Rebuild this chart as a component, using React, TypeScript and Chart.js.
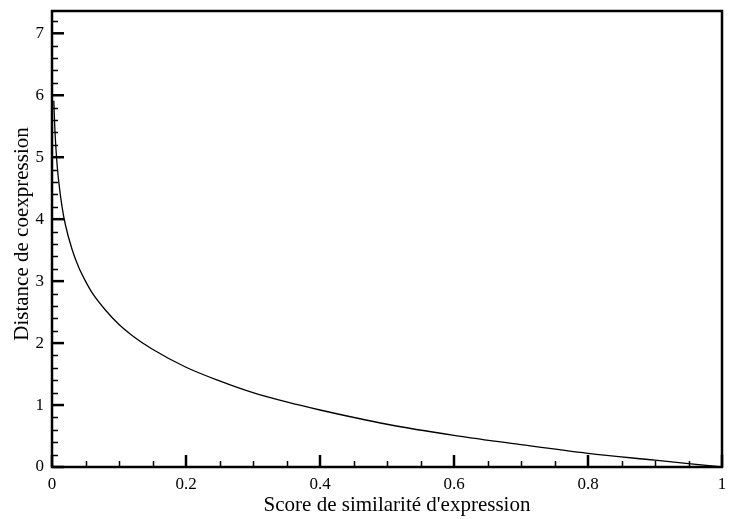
import React, { useEffect, useRef } from "react";
import { Chart, registerables } from "chart.js";

Chart.register(...registerables);

// Similarity score (x) and coexpression distance (y) along the curve
const scoreValues = [
  0.0027, 0.004, 0.006, 0.008, 0.01, 0.015, 0.02, 0.03, 0.04, 0.05, 0.06, 0.08,
  0.1, 0.12, 0.15, 0.2, 0.25, 0.3, 0.35, 0.4, 0.5, 0.6, 0.7, 0.8, 0.9, 1.0,
];
const distanceValues = [
  5.91, 5.52, 5.12, 4.83, 4.61, 4.2, 3.91, 3.51, 3.22, 3.0, 2.81, 2.53,
  2.3, 2.12, 1.9, 1.61, 1.39, 1.2, 1.05, 0.92, 0.69, 0.51, 0.36, 0.22, 0.11, 0.0,
];

const xMajorTicks = [0, 0.2, 0.4, 0.6, 0.8, 1];
const xTickLabels = ["0", "0.2", "0.4", "0.6", "0.8", "1"];
const xMinorTicks = [0.05, 0.1, 0.15, 0.25, 0.3, 0.35, 0.45, 0.5, 0.55, 0.65, 0.7, 0.75, 0.85, 0.9, 0.95];
const yMajorTicks = [0, 1, 2, 3, 4, 5, 6, 7];
const yMinorTicks = [
  0.2, 0.4, 0.6, 0.8, 1.2, 1.4, 1.6, 1.8, 2.2, 2.4, 2.6, 2.8, 3.2, 3.4, 3.6, 3.8,
  4.2, 4.4, 4.6, 4.8, 5.2, 5.4, 5.6, 5.8, 6.2, 6.4, 6.6, 6.8, 7.2,
];

const xTitle = "Score de similarité d'expression";
const yTitle = "Distance de coexpression";

const FONT = "'Liberation Serif', 'Times New Roman', serif";

// Frame, inward-pointing major/minor ticks and axis titles
const framePlugin = {
  id: "frameTicks",
  afterDraw(chart: any) {
    const { ctx, chartArea, scales } = chart;
    const { left, right, top, bottom } = chartArea;
    const xs = scales.x;
    const ys = scales.y;
    ctx.save();
    ctx.strokeStyle = "#000";
    ctx.lineCap = "butt";

    ctx.lineWidth = 1.5;
    xMinorTicks.forEach((v) => {
      const px = Math.round(xs.getPixelForValue(v)) + 0.5;
      ctx.beginPath();
      ctx.moveTo(px, bottom);
      ctx.lineTo(px, bottom - 6);
      ctx.stroke();
    });
    yMinorTicks.forEach((v) => {
      const py = Math.round(ys.getPixelForValue(v)) + 0.5;
      ctx.beginPath();
      ctx.moveTo(left, py);
      ctx.lineTo(left + 6, py);
      ctx.stroke();
    });

    ctx.lineWidth = 2.5;
    xMajorTicks.forEach((v) => {
      const px = xs.getPixelForValue(v);
      ctx.beginPath();
      ctx.moveTo(px, bottom);
      ctx.lineTo(px, bottom - 12);
      ctx.stroke();
    });
    yMajorTicks.forEach((v) => {
      const py = ys.getPixelForValue(v);
      ctx.beginPath();
      ctx.moveTo(left, py);
      ctx.lineTo(left + 12, py);
      ctx.stroke();
    });

    ctx.lineWidth = 2.5;
    ctx.strokeRect(left, top, right - left, bottom - top);

    // axis titles
    ctx.fillStyle = "#000";
    ctx.font = `21px ${FONT}`;
    ctx.textAlign = "center";
    ctx.textBaseline = "alphabetic";
    ctx.fillText(xTitle, (left + right) / 2 + 10, bottom + 44);

    ctx.translate(28, (top + bottom) / 2 - 5);
    ctx.rotate(-Math.PI / 2);
    ctx.fillText(yTitle, 0, 0);
    ctx.restore();
  },
};

function zeroPadding(scale: any) {
  scale.paddingTop = 0;
  scale.paddingBottom = 0;
  scale.paddingLeft = 0;
  scale.paddingRight = 0;
}

export default function App() {
  const canvasRef = useRef<HTMLCanvasElement | null>(null);

  useEffect(() => {
    if (!canvasRef.current) return;
    const points = scoreValues.map((x, i) => ({ x, y: distanceValues[i] }));
    const chart = new Chart(canvasRef.current, {
      type: "scatter",
      data: {
        datasets: [
          {
            data: points,
            showLine: true,
            borderColor: "#000",
            borderWidth: 1.3,
            pointRadius: 0,
            cubicInterpolationMode: "monotone",
            fill: false,
          },
        ],
      },
      options: {
        animation: false,
        responsive: false,
        maintainAspectRatio: false,
        layout: { padding: { top: 11, right: 11, left: 0, bottom: 0 } },
        plugins: { legend: { display: false }, tooltip: { enabled: false } },
        scales: {
          x: {
            type: "linear",
            min: 0,
            max: 1,
            afterFit(scale: any) {
              scale.height = 52;
              zeroPadding(scale);
            },
            afterBuildTicks(scale: any) {
              scale.ticks = xMajorTicks.map((v) => ({ value: v }));
            },
            grid: { display: false, drawTicks: false },
            border: { display: false },
            ticks: {
              padding: 7,
              color: "#000",
              font: { family: FONT, size: 17 },
              maxRotation: 0,
              autoSkip: false,
              callback: (v: any) => xTickLabels[xMajorTicks.indexOf(Number(v))] ?? "",
            },
            title: { display: false },
          },
          y: {
            type: "linear",
            min: 0,
            max: 7.36,
            afterFit(scale: any) {
              scale.width = 52;
              zeroPadding(scale);
            },
            afterBuildTicks(scale: any) {
              scale.ticks = yMajorTicks.map((v) => ({ value: v }));
            },
            grid: { display: false, drawTicks: false },
            border: { display: false },
            ticks: {
              padding: 8,
              color: "#000",
              font: { family: FONT, size: 17 },
              autoSkip: false,
              callback: (v: any) => String(v),
            },
            title: { display: false },
          },
        },
      },
      plugins: [framePlugin],
    } as any);
    return () => chart.destroy();
  }, []);

  return (
    <div style={{ position: "absolute", left: 0, top: 0, width: 733, height: 519, background: "#fff" }}>
      <canvas ref={canvasRef} width={733} height={519} style={{ display: "block" }} />
    </div>
  );
}
